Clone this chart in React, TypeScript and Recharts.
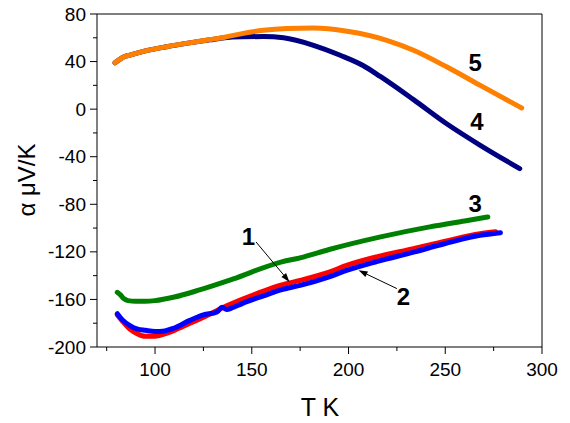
import React from 'react';
import { LineChart, Line, XAxis, YAxis, ReferenceLine, ReferenceDot } from 'recharts';

const FONT = '"Liberation Sans", Arial, sans-serif';
const PLOT_LEFT = 97;
const PLOT_BOTTOM = 347;

// curve 1 (red)
const t1 = [80.5, 83, 87, 91, 95, 100, 105, 110, 118, 125, 135, 145, 156, 165, 175, 190, 199, 215, 233.6, 250, 268, 276];
const a1 = [-173, -178, -185, -189, -191, -191, -189, -186, -180, -175, -167, -160, -153, -148, -144, -137, -131.4, -124, -117.3, -111, -104.7, -103];
// curve 2 (blue)
const t2 = [80.5, 83, 87, 91, 95, 100, 105, 110, 118, 125, 132, 134.7, 137, 140, 145, 156, 165, 175, 190, 199, 215, 233.6, 250, 268, 278.5];
const a2 = [-172, -177, -182, -185, -186, -187, -186.5, -184, -177.6, -173, -170.5, -166.5, -168.5, -167, -163.5, -157, -152, -148.2, -141, -135.6, -128, -120.2, -113, -106.1, -103.9];
// curve 3 (green)
const t3 = [80.5, 82, 84, 86, 90, 95, 100, 110, 123, 140, 165, 175, 190, 216, 242, 260, 272];
const a3 = [-154, -156, -159.5, -161, -161.5, -161.5, -161, -158, -152, -143, -128.6, -125, -118, -107.6, -99, -94, -90.7];
// curve 4 (navy)
const t4 = [79.3, 81, 84, 87, 95, 106, 117, 128.5, 136, 145, 156, 166.4, 181.9, 195.7, 207.7, 216.4, 233.6, 250.9, 268.1, 288.5];
const a4 = [39, 41, 44, 45.5, 49, 52.5, 55.5, 58.3, 60, 60.8, 61, 60, 53.7, 45.3, 36.5, 27.5, 8, -12.5, -30.4, -50];
// curve 5 (orange)
const t5 = [79.3, 81, 84, 87, 95, 106, 117, 128.5, 136, 145, 156, 168, 181.9, 199.2, 219.8, 233.6, 250.9, 268.1, 289.5];
const a5 = [39, 41, 44, 45.5, 49, 52.5, 55.5, 58.5, 60.5, 63.5, 66.3, 67.8, 68.2, 65.5, 57.9, 49.5, 35.4, 20, 1];

const xTicks = [75, 100, 125, 150, 175, 200, 225, 250, 275, 300];
const yTicks = [-200, -180, -160, -140, -120, -100, -80, -60, -40, -20, 0, 20, 40, 60, 80];

const labels = [
  { text: '1', t: 148.3, a: -106.9 },
  { text: '2', t: 228.4, a: -157.4 },
  { text: '3', t: 265.5, a: -79.4 },
  { text: '4', t: 266.4, a: -10.8 },
  { text: '5', t: 265.5, a: 39.6 },
];

const arrows = [
  { from: { x: 152.2, y: -111.7 }, to: { x: 169.5, y: -145.3 } },
  { from: { x: 225, y: -150.9 }, to: { x: 205.2, y: -135.5 } },
];

const series = [
  { name: '1', t: t1, a: a1, color: '#ff0000' },
  { name: '2', t: t2, a: a2, color: '#0000ff' },
  { name: '3', t: t3, a: a3, color: '#008000' },
  { name: '4', t: t4, a: a4, color: '#000080' },
  { name: '5', t: t5, a: a5, color: '#ff8000' },
];

const toRows = (t: number[], a: number[]) => t.map((v, i) => ({ t: v, a: a[i] }));

const YTick = (props: any) => {
  const { y, payload } = props;
  const major = payload.value % 40 === 0;
  return (
    <g>
      <line x1={PLOT_LEFT - (major ? 7 : 4)} x2={PLOT_LEFT} y1={y} y2={y} stroke="#000" strokeWidth={1} />
      {major && (
        <text x={86} y={y} textAnchor="end" dominantBaseline="central" fontSize={19} fontFamily={FONT} fill="#000">
          {payload.value}
        </text>
      )}
    </g>
  );
};

const XTick = (props: any) => {
  const { x, payload } = props;
  const major = payload.value % 50 === 0;
  return (
    <g>
      <line x1={x} x2={x} y1={PLOT_BOTTOM} y2={PLOT_BOTTOM + (major ? 7 : 4)} stroke="#000" strokeWidth={1} />
      {major && (
        <text x={x} y={369} textAnchor="middle" dominantBaseline="central" fontSize={19} fontFamily={FONT} fill="#000">
          {payload.value}
        </text>
      )}
    </g>
  );
};

const Arrow = (props: any) => {
  const { x1, y1, x2, y2 } = props;
  const ang = Math.atan2(y2 - y1, x2 - x1);
  const len = 9;
  const w = 3;
  const bx = x2 - len * Math.cos(ang);
  const by = y2 - len * Math.sin(ang);
  const px = -Math.sin(ang) * w;
  const py = Math.cos(ang) * w;
  return (
    <g>
      <line x1={x1} y1={y1} x2={bx} y2={by} stroke="#000" strokeWidth={1} />
      <polygon points={`${x2},${y2} ${bx + px},${by + py} ${bx - px},${by - py}`} fill="#000" />
    </g>
  );
};

export default function App() {
  return (
    <div style={{ position: 'absolute', left: 0, top: 0, width: 570, height: 423, background: '#fff' }}>
      <LineChart width={570} height={423} margin={{ top: 14, right: 28, bottom: 0, left: 0 }}>
        <XAxis
          dataKey="t"
          type="number"
          domain={[70, 300]}
          ticks={xTicks}
          interval={0}
          height={76}
          axisLine={{ stroke: '#000' }}
          tickLine={false}
          tick={(p: any) => <XTick {...p} />}
          allowDataOverflow
        />
        <YAxis
          dataKey="a"
          type="number"
          domain={[-200, 80]}
          ticks={yTicks}
          interval={0}
          width={97}
          axisLine={{ stroke: '#000' }}
          tickLine={false}
          tick={(p: any) => <YTick {...p} />}
          allowDataOverflow
        />
        <ReferenceLine y={80} stroke="#000" strokeWidth={1} />
        <ReferenceLine x={300} stroke="#000" strokeWidth={1} />
        {series.map((s) => (
          <Line
            key={s.name}
            data={toRows(s.t, s.a)}
            dataKey="a"
            type="monotone"
            stroke={s.color}
            strokeWidth={5}
            strokeLinecap="round"
            strokeLinejoin="round"
            dot={false}
            activeDot={false}
            isAnimationActive={false}
          />
        ))}
        {arrows.map((ar, i) => (
          <ReferenceLine key={`arrow-${i}`} segment={[ar.from, ar.to]} shape={(p: any) => <Arrow {...p} />} />
        ))}
        {labels.map((l) => (
          <ReferenceDot
            key={`lbl-${l.text}`}
            x={l.t}
            y={l.a}
            r={0}
            shape={(p: any) => (
              <text
                x={p.cx}
                y={p.cy}
                textAnchor="middle"
                dominantBaseline="central"
                fontSize={24}
                fontWeight="bold"
                fontFamily={FONT}
                fill="#000"
              >
                {l.text}
              </text>
            )}
          />
        ))}
        <text x={320} y={407} textAnchor="middle" dominantBaseline="central" fontSize={25} fontFamily={FONT} fill="#000">
          T K
        </text>
        <text
          x={26}
          y={180}
          transform="rotate(-90 26 180)"
          textAnchor="middle"
          dominantBaseline="central"
          fontSize={24}
          fontFamily={FONT}
          fill="#000"
        >
          α μV/K
        </text>
      </LineChart>
    </div>
  );
}
